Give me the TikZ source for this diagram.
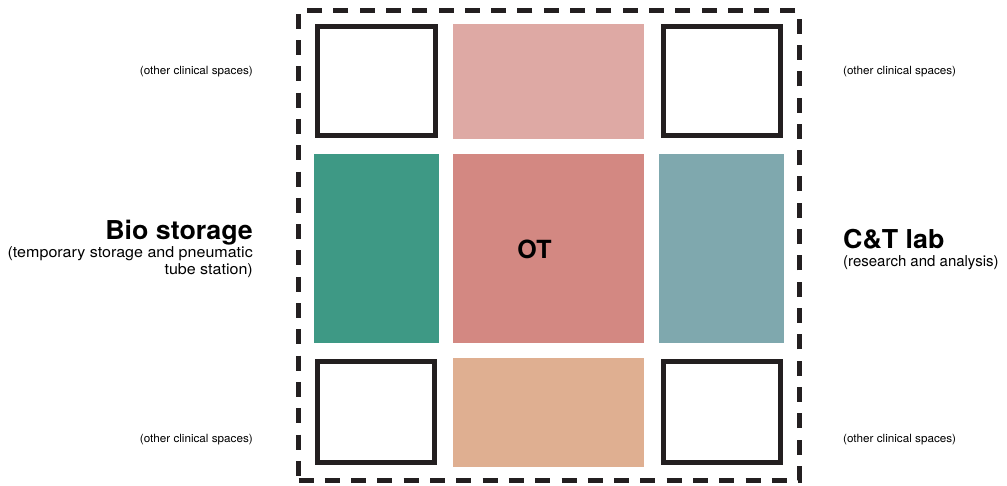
\documentclass[tikz,border=0pt]{standalone}
\usepackage{fontspec}
\setmainfont{TeX Gyre Heros}
\newfontfamily\subfont[FakeStretch=1.07]{TeX Gyre Heros}
\newfontfamily\smallfont[FakeStretch=1.035]{TeX Gyre Heros}
\newfontfamily\titlefont[FakeStretch=1.03]{TeX Gyre Heros}
\definecolor{darkline}{HTML}{231F20}
\definecolor{toppink}{HTML}{DEA9A4}
\definecolor{otred}{HTML}{D38882}
\definecolor{biogreen}{HTML}{3E9985}
\definecolor{labteal}{HTML}{7FA8AE}
\definecolor{botorange}{HTML}{DFAF91}
\tikzset{
  outlinebox/.style={draw=darkline, line width=5pt, fill=white, inner sep=0pt, miter limit=10},
  fillbox/.style={draw=none, inner sep=0pt},
  framebox/.style={draw=darkline, line width=5pt, dash pattern=on 15pt off 11.3pt, inner sep=0pt},
  title/.style={font=\titlefont\fontsize{26}{28}\selectfont\bfseries, inner sep=0pt},
  subtitle/.style={font=\subfont\fontsize{15}{16.5}\selectfont, inner sep=0pt},
  labsubtitle/.style={font=\fontsize{15}{16.5}\selectfont, inner sep=0pt},
  small/.style={font=\smallfont\fontsize{11.3}{13}\selectfont, inner sep=0pt},
}
\begin{document}
\begin{tikzpicture}[x=1pt,y=-1pt]
\useasboundingbox (0,0) rectangle (1007,486);
% frame
\node[framebox, minimum width=500.5pt, minimum height=469pt] (frame) at (548.75,245.5) {};
% top row
\node[outlinebox, minimum width=117.5pt, minimum height=109pt] (tl) at (376.25,81.3) {};
\node[fillbox, fill=toppink, minimum width=191.3pt, minimum height=115pt] (tm) at (548.35,81.6) {};
\node[outlinebox, minimum width=117.5pt, minimum height=109pt] (tr) at (721.75,81.3) {};
% middle row
\node[fillbox, fill=biogreen, minimum width=125pt, minimum height=189.3pt] (ml) at (376.5,248.65) {};
\node[fillbox, fill=otred, minimum width=191.3pt, minimum height=189.3pt] (mm) at (548.35,248.65) {};
\node[fillbox, fill=labteal, minimum width=125pt, minimum height=189.3pt] (mr) at (721.5,248.65) {};
% bottom row
\node[outlinebox, minimum width=117pt, minimum height=101pt] (bl) at (376,412) {};
\node[fillbox, fill=botorange, minimum width=191.3pt, minimum height=109pt] (bm) at (548.35,412.2) {};
\node[outlinebox, minimum width=117pt, minimum height=101pt] (br) at (721.7,412) {};
% texts
\node[font=\fontsize{25}{27}\selectfont\bfseries, inner sep=0pt] (ot) at (534.5,249) {OT};
\node[title, anchor=base east] (bio) at (253,239.5) {Bio storage};
\node[subtitle, anchor=base east] (biosub1) at (253,258) {(temporary storage and pneumatic};
\node[subtitle, anchor=base east] (biosub2) at (253,274.5) {tube station)};
\node[title, anchor=base west] (lab) at (843,249) {C\&T lab};
\node[labsubtitle, anchor=base west] (labsub) at (843,266.5) {(research and analysis)};
\node[small, anchor=base east] (otl) at (253,74.5) {(other clinical spaces)};
\node[small, anchor=base east] (obl) at (253,442.5) {(other clinical spaces)};
\node[small, anchor=base west] (otr) at (843,74.5) {(other clinical spaces)};
\node[small, anchor=base west] (obr) at (843,442.5) {(other clinical spaces)};
\end{tikzpicture}
\end{document}
